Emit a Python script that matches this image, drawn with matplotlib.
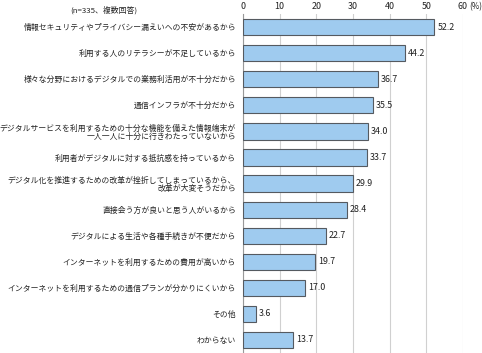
import matplotlib
matplotlib.use("Agg")
import matplotlib.pyplot as plt

plt.rcParams["font.family"] = ["Noto Sans CJK JP", "DejaVu Sans"]

labels = [
    "情報セキュリティやプライバシー漏えいへの不安があるから",
    "利用する人のリテラシーが不足しているから",
    "様々な分野におけるデジタルでの業務利活用が不十分だから",
    "通信インフラが不十分だから",
    "デジタルサービスを利用するための十分な機能を備えた情報端末が\n一人一人に十分に行きわたっていないから",
    "利用者がデジタルに対する抵抗感を持っているから",
    "デジタル化を推進するための改革が挫折してしまっているから、\n改革が大変そうだから",
    "直接会う方が良いと思う人がいるから",
    "デジタルによる生活や各種手続きが不便だから",
    "インターネットを利用するための費用が高いから",
    "インターネットを利用するための通信プランが分かりにくいから",
    "その他",
    "わからない",
]
values = [52.2, 44.2, 36.7, 35.5, 34.0, 33.7, 29.9, 28.4, 22.7, 19.7, 17.0, 3.6, 13.7]
ticks = [0, 10, 20, 30, 40, 50, 60]

fig = plt.figure(figsize=(4.82, 3.53), dpi=100)
ax = fig.add_axes([0.504, 0.0, 0.4565, 0.96])

pos = list(range(len(labels)))
ax.barh(pos, values, height=0.62, color="#9fcbef", edgecolor="#555a60", linewidth=0.8, zorder=3)
for p, v in zip(pos, values):
    ax.text(v + 0.8, p, f"{v:.1f}", va="center", ha="left", fontsize=6.4, color="#222222")

ax.set_xlim(0, 60)
ax.set_ylim(len(labels) - 0.5, -0.5)
ax.set_xticks(ticks)
ax.set_xticklabels([str(t) for t in ticks])
ax.xaxis.tick_top()
ax.tick_params(axis="x", length=0, pad=2, labelsize=6.4, colors="#222222")
ax.set_yticks(pos)
ax.set_yticklabels(labels, fontsize=5.65, color="#222222", linespacing=1.05)
ax.tick_params(axis="y", length=0, pad=5)
for lab in ax.get_yticklabels():
    lab.set_multialignment("right")

ax.grid(axis="x", color="#d0d0d0", linewidth=0.8, zorder=0)
for s in ["top", "right", "bottom"]:
    ax.spines[s].set_visible(False)
ax.spines["left"].set_color("#999999")
ax.spines["left"].set_linewidth(0.8)

fig.text(469 / 482, 1 - 7 / 353, "(%)", fontsize=5.8, color="#222222", ha="left", va="center")
fig.text(0.145, 1 - 10 / 353, "(n=335、複数回答)", fontsize=5.65, color="#222222", ha="left", va="center")

fig.savefig("out.png", dpi=100)
